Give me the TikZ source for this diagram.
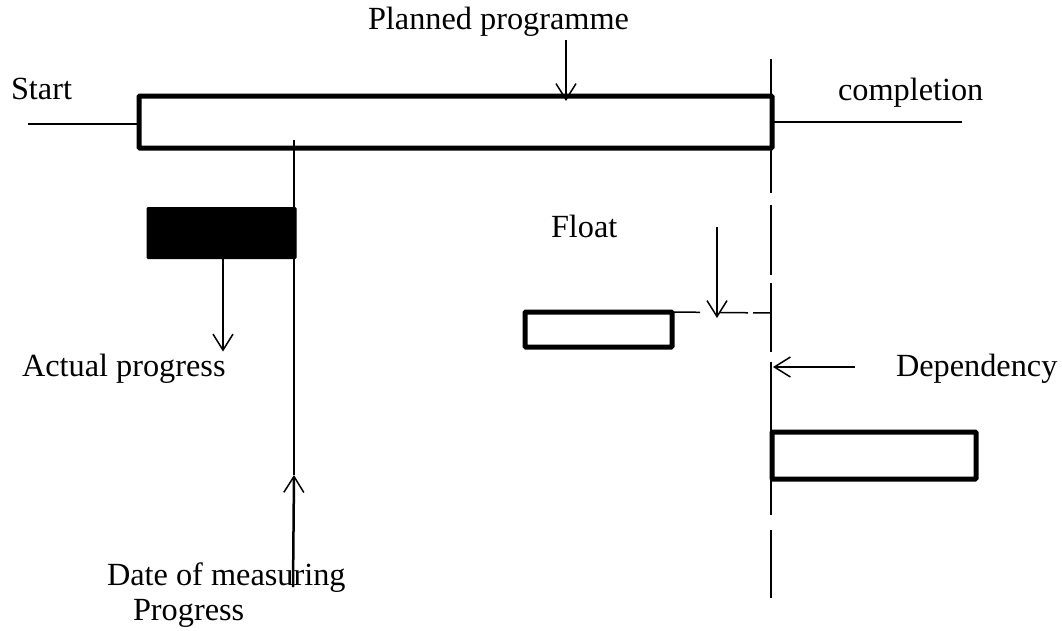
\documentclass[tikz,border=0pt]{standalone}
\usepackage{fontspec}
\setmainfont{Liberation Serif}
\usetikzlibrary{arrows.meta}
\begin{document}
\begin{tikzpicture}[x=1pt,y=-1pt,
  bar/.style={draw=black,line width=5pt,rounded corners=1pt,inner sep=0pt,outer sep=0pt,fill=white},
  solidbar/.style={draw=black,line width=1pt,rounded corners=1pt,inner sep=0pt,outer sep=0pt,fill=black},
  lbl/.style={anchor=base west,inner sep=0pt,outer sep=0pt,font=\fontsize{32.3}{37}\selectfont},
  thin/.style={line width=1.5pt},
  barb/.style={line width=1.5pt,-{Straight Barb[length=16pt,width=20pt,line width=1.5pt]}}]
\useasboundingbox (0,0) rectangle (1062,630);
% bars
\node[bar,minimum width=633pt,minimum height=52pt] (plan) at (455.5,122) {};
\node[solidbar,minimum width=149pt,minimum height=51pt] (act) at (221.5,233) {};
\node[bar,minimum width=147pt,minimum height=35pt] (fbox) at (598.5,329.5) {};
\node[bar,minimum width=204pt,minimum height=47pt] (dbox) at (874,455.5) {};
% labels
\node[lbl] (tstart) at (11,99) {Start};
\node[lbl] (tcomp) at (838,100) {completion};
\node[lbl] (tplan) at (368,29) {Planned programme};
\node[lbl] (tact) at (22,376) {Actual progress};
\node[lbl] (tfloat) at (551,237) {Float};
\node[lbl] (tdep) at (896,376) {Dependency};
\node[lbl] (tdate) at (107,585) {Date of measuring};
\node[lbl] (tprog) at (133,620) {Progress};
% coordinates
\coordinate (s) at (28,124);
\coordinate (c) at (962,122);
\coordinate (vtop) at (771,59);
\coordinate (vbot) at (771,598);
\coordinate (pa) at (566,40);
\coordinate (pt) at (566,101);
\coordinate (fa) at (717,227);
\coordinate (ft) at (717,318);
\coordinate (fe) at (771,313);
\coordinate (da) at (855,367);
\coordinate (dt) at (773,367);
\coordinate (mtop) at (294,140);
\coordinate (mtip) at (294,475);
\coordinate (mbot) at (293,587);
% lines
\draw[thin] (s) -- (s -| plan.west);
\draw[thin] (c) -- (c -| plan.east);
\draw[thin,dash pattern=on 134pt off 12pt on 70pt off 8pt on 69pt off 10pt on 153pt off 15pt on 68pt] (vtop) -- (vbot);
\draw[thin,dash pattern=on 28pt off 20pt on 28pt off 5pt on 30pt] (fbox.north east) -- (fe);
\draw[thin] (mtop) -- (mtip);
% arrows
\draw[barb] (pa) -- (pt);
\draw[barb] ([xshift=1.5pt]act.south) -- ++(0,93);
\draw[barb] (fa) -- (ft);
\draw[barb] (da) -- (dt);
\draw[barb,line width=2.5pt] (mbot) -- (mtip);
\end{tikzpicture}
\end{document}
